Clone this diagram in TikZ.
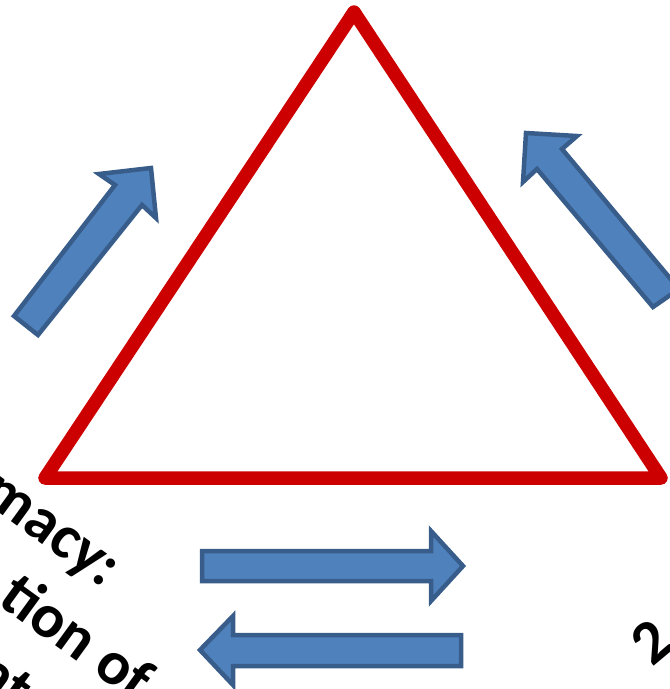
\documentclass[tikz,border=0pt]{standalone}
\usepackage{fontspec}
\setmainfont{Carlito}
\begin{document}
\begin{tikzpicture}[x=1pt,y=-1pt,
  tri/.style={line width=13.5pt, line join=round},
  blockarrow/.style={fill={rgb,255:red,79;green,129;blue,189}, draw={rgb,255:red,56;green,93;blue,138}, line width=4.5pt, line join=miter},
  lbl/.style={font=\fontsize{62}{76}\selectfont\bfseries, inner sep=0pt, text=black}]
\useasboundingbox (0,0) rectangle (670,689);
\clip (0,0) rectangle (670,689);
\definecolor{tred}{RGB}{204,0,0}
% triangle
\coordinate (apex) at (354,12);
\coordinate (bl) at (45,478);
\coordinate (br) at (661,478);
\draw[tri, draw=tred] (apex) -- (bl) -- (br) -- cycle;
% arrow up-right (left side)
\draw[blockarrow] (14,316) -- (115,185) -- (99,174) -- (151,168) -- (156,218) -- (142,205) -- (38,335) -- cycle;
% arrow up-left (right side)
\draw[blockarrow] (526,133) -- (577,136) -- (562,149) -- (679,289) -- (653,307) -- (537,169) -- (523,182) -- cycle;
% right arrow
\draw[blockarrow] (202,551) -- (431,551) -- (431,531) -- (463,566) -- (431,601) -- (431,581) -- (202,581) -- cycle;
% left arrow
\draw[blockarrow] (461,635) -- (233,635) -- (233,616) -- (200,650) -- (233,685) -- (233,666) -- (461,666) -- cycle;
% texts
\node[lbl, rotate=-36, anchor=base east] (t1) at (104,589) {macy:};
\node[lbl, rotate=-36, anchor=base east] (t2) at (134,703) {tion of};
\node[lbl, rotate=-36, anchor=base east] (t3) at (15,712) {at};
\node[lbl, rotate=40, anchor=base west] (t4) at (652,668) {2};
\end{tikzpicture}
\end{document}
